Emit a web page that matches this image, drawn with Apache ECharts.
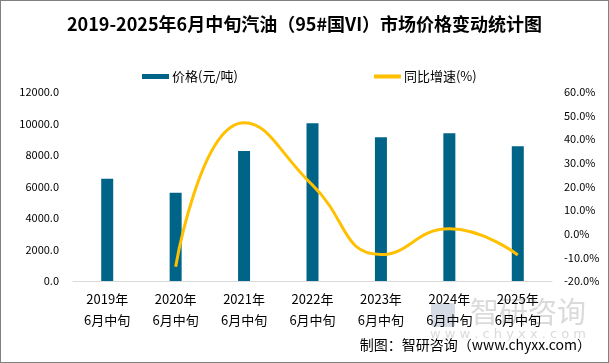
<!DOCTYPE html>
<html><head><meta charset="utf-8">
<script src="https://cdn.jsdelivr.net/npm/echarts@6/dist/echarts.min.js"></script>
<style>html,body{margin:0;padding:0;background:#fff}#c{width:609px;height:363px;box-sizing:border-box;border:1px solid #808080}</style>
</head><body><div id="c"></div>
<script>
const categories = ['2019年\n6月中旬','2020年\n6月中旬','2021年\n6月中旬','2022年\n6月中旬','2023年\n6月中旬','2024年\n6月中旬','2025年\n6月中旬'];
const prices = [6490, 5610, 8250, 10010, 9130, 9380, 8560];
const growth = [null, -14.0, 47.0, 20.6, -8.8, 2.1, -9.0];
const leftTicks = {min: 0, max: 12000, interval: 2000};
const rightTicks = {min: -20, max: 60, interval: 10};

const chart = echarts.init(document.getElementById('c'));
const font = '"Noto Sans CJK SC", sans-serif';
chart.setOption({
  animation: false,
  textStyle: {fontFamily: font},
  title: {
    text: '2019-2025年6月中旬汽油（95#国VI）市场价格变动统计图',
    left: 'center', top: 9,
    textStyle: {fontSize: 18, fontWeight: 'bold', color: '#000', fontFamily: font}
  },
  legend: {
    top: 64, left: 136, itemGap: 136,
    itemWidth: 27, itemHeight: 5,
    textStyle: {fontSize: 13, color: '#000', fontFamily: font, padding: [0, 0, 0, -2]},
    data: [
      {name: '价格(元/吨)', icon: 'rect'},
      {name: '同比增速(%)', icon: 'path://M0,0 L27,0 L27,4 L0,4 Z'}
    ]
  },
  grid: {left: 72, right: 56, top: 91, bottom: 81},
  xAxis: {
    type: 'category', data: categories,
    axisLine: {lineStyle: {color: '#d9d9d9', width: 1}},
    axisTick: {show: false},
    axisLabel: {color: '#000', fontSize: 13, lineHeight: 21, margin: 8, interval: 0}
  },
  yAxis: [
    {type: 'value', min: leftTicks.min, max: leftTicks.max, interval: leftTicks.interval,
     splitLine: {show: false}, axisLine: {show: false}, axisTick: {show: false},
     axisLabel: {color: '#000', fontSize: 11, margin: 14, formatter: v => v.toFixed(1)}},
    {type: 'value', min: rightTicks.min, max: rightTicks.max, interval: rightTicks.interval,
     splitLine: {show: false}, axisLine: {show: false}, axisTick: {show: false},
     axisLabel: {color: '#000', fontSize: 11, margin: 12, formatter: v => v.toFixed(1) + '%'}}
  ],
  series: [
    {name: '价格(元/吨)', type: 'bar', data: prices, barWidth: 12,
     itemStyle: {color: '#006488'}},
    {name: '同比增速(%)', type: 'line', yAxisIndex: 1, data: growth, smooth: 0.5,
     showSymbol: false, symbol: 'none', connectNulls: false,
     lineStyle: {color: '#FFC000', width: 3}, itemStyle: {color: '#FFC000'}}
  ],
  graphic: [
    {type: 'text', right: 17, top: 337, style: {text: '制图：智研咨询（www.chyxx.com）', font: '14px "Noto Sans CJK SC"', fill: '#000'}, z: 10},
    {type: 'text', right: 22, top: 296, style: {text: '智研咨询', font: '29px "Noto Sans CJK SC"', fill: 'rgba(150,150,150,0.35)'}, z: 0},
    {type: 'text', right: 22, top: 327, style: {text: 'w w w . c h y x x . c o m', font: '13px "DejaVu Sans"', fill: 'rgba(150,150,150,0.35)'}, z: 0},
    {type: 'rect', left: 430, top: 302, shape: {width: 24, height: 24, r: 3}, style: {fill: 'rgba(120,140,170,0.3)'}, z: 0}
  ]
});
</script></body></html>
